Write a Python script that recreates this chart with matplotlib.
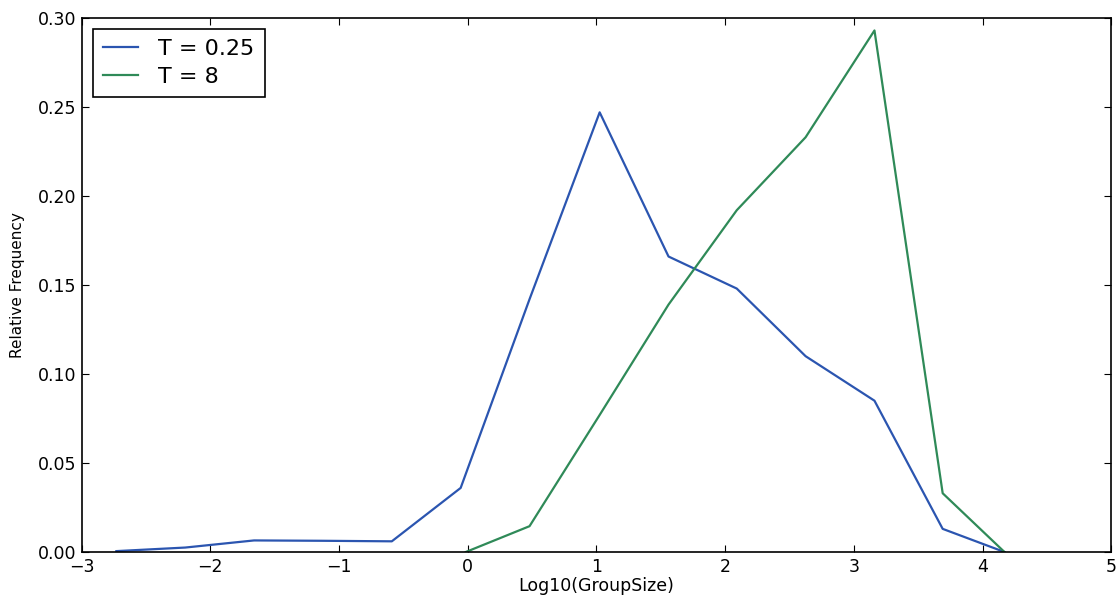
import matplotlib
matplotlib.use("Agg")
import matplotlib.pyplot as plt

# log10 group size bins
x_t025 = [-2.73, -2.195, -1.66, -1.125, -0.59, -0.055, 0.48, 1.025, 1.56, 2.09, 2.625, 3.16, 3.69, 4.17]
freq_t025 = [0.0005, 0.0025, 0.0065, 0.0063, 0.006, 0.036, 0.142, 0.247, 0.166, 0.148, 0.110, 0.085, 0.013, 0.0]

x_t8 = [-0.015, 0.48, 1.025, 1.56, 2.09, 2.625, 3.16, 3.69, 4.17]
freq_t8 = [0.0, 0.0145, 0.077, 0.139, 0.192, 0.233, 0.293, 0.033, 0.0]

labels = ["T = 0.25", "T = 8"]
colors = ["#2b55b0", "#2f8a58"]

fig = plt.figure(figsize=(11.18, 6), dpi=100)
ax = fig.add_axes([0.073, 0.08, 0.921, 0.89])

ax.plot(x_t025, freq_t025, color=colors[0], lw=1.6, label=labels[0])
ax.plot(x_t8, freq_t8, color=colors[1], lw=1.6, label=labels[1])

ax.set_xlim(-3, 5)
ax.set_ylim(0, 0.30)
ax.set_xticks(range(-3, 6))
ax.set_yticks([0, 0.05, 0.10, 0.15, 0.20, 0.25, 0.30])
ax.set_yticklabels(["0.00", "0.05", "0.10", "0.15", "0.20", "0.25", "0.30"])
ax.tick_params(direction="in", top=True, right=True, labelsize=12.5, length=5, pad=4)
for s in ax.spines.values():
    s.set_linewidth(1.2)

ax.set_xlabel("Log10(GroupSize)", fontsize=12.5, labelpad=1)
ax.set_ylabel("Relative Frequency", fontsize=11, labelpad=9)

leg = ax.legend(loc="upper left", fontsize=16, fancybox=False, framealpha=1,
                edgecolor="black", handlelength=1.6, handletextpad=0.9,
                borderpad=0.45, labelspacing=0.35, borderaxespad=0.5)
leg.get_frame().set_linewidth(1.2)

fig.savefig("out.png", dpi=100)
